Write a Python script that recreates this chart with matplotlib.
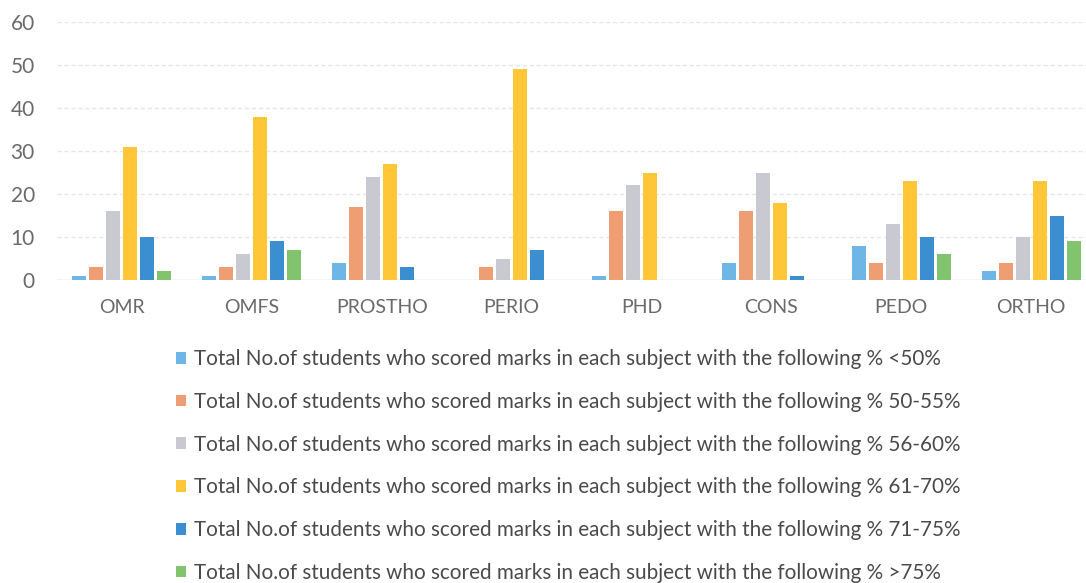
import matplotlib
matplotlib.use("Agg")
import matplotlib.pyplot as plt
import numpy as np

categories = ["OMR", "OMFS", "PROSTHO", "PERIO", "PHD", "CONS", "PEDO", "ORTHO"]
below_50 = [1, 1, 4, 0, 1, 4, 8, 2]
p50_55 = [3, 3, 17, 3, 16, 16, 4, 4]
p56_60 = [16, 6, 24, 5, 22, 25, 13, 10]
p61_70 = [31, 38, 27, 49, 25, 18, 23, 23]
p71_75 = [10, 9, 3, 7, 0, 1, 10, 15]
above_75 = [2, 7, 0, 0, 0, 0, 6, 9]

prefix = "Total No.of students who scored marks in each subject with the following % "
series_labels = [prefix + s for s in ["<50%", "50-55%", "56-60%", "61-70%", "71-75%", ">75%"]]
series = [below_50, p50_55, p56_60, p61_70, p71_75, above_75]
colors = ["#6DB6E6", "#EE9E72", "#C9C9D2", "#FFC637", "#3B8ED0", "#82C46E"]

plt.rcParams['font.family'] = ['Lato', 'DejaVu Sans']

W, H = 1086, 583
fig = plt.figure(figsize=(W / 100, H / 100), dpi=100)
left_px, right_px, top_px, bottom_px = 57, 1096, 22, 280
ax = fig.add_axes([left_px / W, (H - bottom_px) / H, (right_px - left_px) / W, (bottom_px - top_px) / H])

x = np.arange(len(categories))
slot = 0.131
bw = 0.108
handles = []
for i, (vals, c, lab) in enumerate(zip(series, colors, series_labels)):
    off = (i - 2.5) * slot
    b = ax.bar(x + off, vals, width=bw, color=c, label=lab, zorder=3)
    handles.append(b)

ax.set_xlim(-0.5, len(categories) - 0.5)
ax.set_ylim(0, 60)
ax.set_yticks(range(0, 61, 10))
ax.set_xticks(x)
ax.set_xticklabels(categories)
for s in ax.spines.values():
    s.set_visible(False)
ax.axhline(0, color="#D9D9D9", lw=1, zorder=2)
ax.grid(axis="y", color="#E6E6E6", lw=1, ls=(0, (3, 2)), zorder=0)
ax.tick_params(axis="both", length=0, labelcolor="#6A6A6A")
ax.tick_params(axis="x", pad=14, labelsize=14)
ax.tick_params(axis="y", pad=16, labelsize=15)

leg = fig.legend(handles=handles, labels=series_labels, loc="upper left",
                 bbox_to_anchor=(176 / W, 1 - 349 / H), frameon=False,
                 fontsize=14.9, labelcolor="#4A4A4A", handlelength=0.5, handleheight=0.5,
                 handletextpad=0.35, labelspacing=1.10, borderpad=0, borderaxespad=0)

fig.savefig("out.png", dpi=100)
